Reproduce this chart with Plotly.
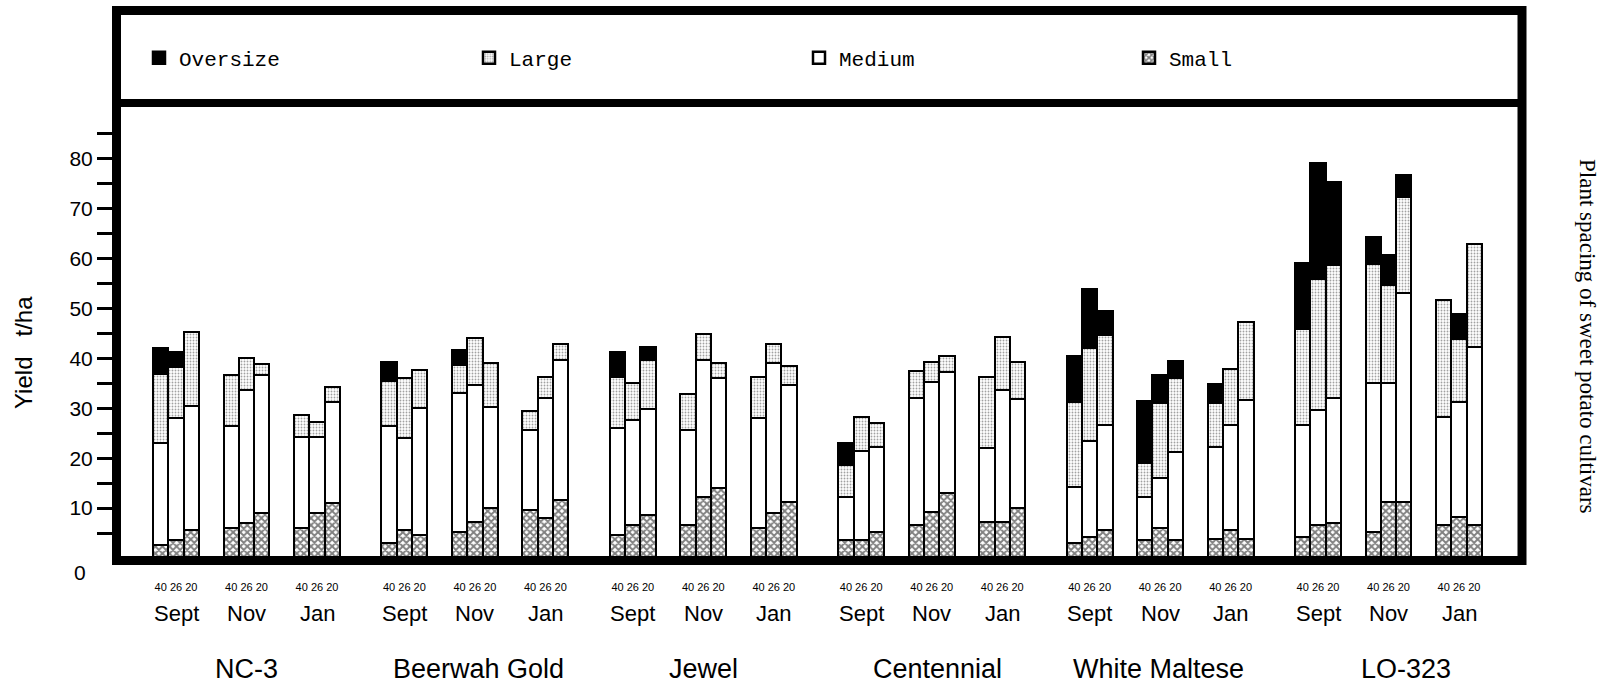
import plotly.graph_objects as go

# ---------------- data ----------------
cultivars = ["NC-3", "Beerwah Gold", "Jewel", "Centennial", "White Maltese", "LO-323"]
months = ["Sept", "Nov", "Jan"]
spacings = ["40", "26", "20"]
sizes = ["Oversize", "Large", "Medium", "Small"]

# yields (t/ha) per bar; order: cultivar -> month -> spacing (40, 26, 20)
small = [
    2.6, 3.6, 5.6,   6.0, 7.1, 9.1,   6.1, 9.0, 11.1,     # NC-3
    3.0, 5.6, 4.6,   5.3, 7.3, 10.0,  9.6, 8.0, 11.6,     # Beerwah Gold
    4.6, 6.6, 8.6,   6.6, 12.3, 14.0, 6.0, 9.0, 11.3,     # Jewel
    3.6, 3.6, 5.3,   6.6, 9.3, 13.0,  7.3, 7.3, 10.0,     # Centennial
    3.0, 4.3, 5.6,   3.6, 6.1, 3.6,   3.9, 5.6, 3.9,      # White Maltese
    4.3, 6.6, 7.0,   5.3, 11.3, 11.3, 6.6, 8.3, 6.6,      # LO-323
]
medium = [
    20.5, 24.4, 24.9,  20.5, 26.6, 27.6,  18.2, 15.3, 20.2,
    23.5, 18.4, 25.4,  27.7, 27.4, 20.3,  16.1, 24.0, 28.1,
    21.4, 21.1, 21.2,  19.1, 27.4, 22.0,  22.0, 30.0, 23.4,
    8.7, 17.9, 17.0,   25.4, 26.0, 24.3,  14.7, 26.4, 21.9,
    11.2, 19.2, 21.1,  8.7, 9.9, 17.6,    18.4, 21.1, 27.8,
    22.4, 23.1, 25.0,  29.8, 23.8, 41.9,  21.7, 23.0, 35.7,
]
large = [
    13.8, 10.3, 14.7,  10.2, 6.3, 2.2,   4.4, 2.9, 3.0,
    9.0, 12.1, 7.7,    5.7, 9.3, 8.7,    3.8, 4.2, 3.2,
    10.3, 7.3, 9.9,    7.2, 5.2, 3.0,    8.2, 3.9, 3.8,
    6.3, 6.8, 4.8,     5.5, 4.0, 3.2,    14.2, 10.5, 7.3,
    17.1, 18.5, 18.0,  6.7, 15.0, 14.8,  8.8, 11.1, 15.5,
    19.1, 26.3, 26.7,  23.9, 19.6, 19.2, 23.4, 12.5, 20.6,
]
oversize = [
    5.2, 2.9, 0.0,     0.0, 0.0, 0.0,    0.0, 0.0, 0.0,
    3.7, 0.0, 0.0,     3.0, 0.0, 0.0,    0.0, 0.0, 0.0,
    5.0, 0.0, 2.6,     0.0, 0.0, 0.0,    0.0, 0.0, 0.0,
    4.4, 0.0, 0.0,     0.0, 0.0, 0.0,    0.0, 0.0, 0.0,
    9.2, 12.0, 4.7,    12.5, 5.7, 3.5,   3.8, 0.0, 0.0,
    13.4, 23.1, 16.7,  5.3, 6.0, 4.4,    0.0, 5.0, 0.0,
]

y_ticks = list(range(5, 90, 5))
y_ticklabels = [str(v) if v % 10 == 0 else "" for v in y_ticks]

# ---------------- layout constants (pixel-like x units) ----------------
X0, GROUP, MONTH, BARW = 176.0, 228.4, 70.5, 15.3
PL, PR, PT, PB = 120, 1517, 108, 558          # plot area in px
YMAX = (PB - PT) / 4.99
label_shift = [0, 4, 0, 6, -2, 17]            # small horizontal nudges of cultivar labels (px)

xs, sp_labels = [], []
for c in range(len(cultivars)):
    for m in range(len(months)):
        for s in range(len(spacings)):
            xs.append(X0 + c * GROUP + m * MONTH + (s - 1) * BARW)
            sp_labels.append(spacings[s])

def px_x(x):
    return (x - PL) / (PR - PL)

def px_y(y):
    return (PB - y) / (PB - PT)

fig = go.Figure()
styles = {
    "Small": dict(color="white", pattern=dict(shape="x", fgcolor="black", bgcolor="white",
                                               size=5, solidity=0.62)),
    "Medium": dict(color="white"),
    "Large": dict(color="white", pattern=dict(shape=".", fgcolor="#444444", bgcolor="white",
                                               size=3, solidity=0.3)),
    "Oversize": dict(color="black"),
}
series = {"Small": small, "Medium": medium, "Large": large, "Oversize": oversize}
rank = {"Oversize": 1, "Large": 2, "Medium": 3, "Small": 4}
for name in ["Small", "Medium", "Large", "Oversize"]:
    st = styles[name]
    mk = dict(color=st["color"], line=dict(color="black", width=2.5))
    if "pattern" in st:
        mk["pattern"] = st["pattern"]
    fig.add_trace(go.Bar(x=xs, y=series[name], name=name, width=BARW, marker=mk,
                         legendrank=rank[name]))

def ann(x, y, text, size, xref="paper", family="Liberation Sans", angle=0):
    return dict(x=x, y=y, xref=xref, yref="paper", text=text, showarrow=False,
                xanchor="center", yanchor="middle", textangle=angle,
                font=dict(family=family, size=size, color="black"))

annotations = []
for c, cname in enumerate(cultivars):
    for m, mname in enumerate(months):
        xc = X0 + c * GROUP + m * MONTH
        annotations.append(ann(xc, px_y(613), mname, 22, xref="x"))
    annotations.append(ann(X0 + c * GROUP + MONTH + label_shift[c], px_y(669), cname, 27, xref="x"))
annotations.append(ann(px_x(80), px_y(572), "0", 21))
annotations.append(ann(px_x(23), px_y(353), "Yield   t/ha", 24, angle=-90))
annotations.append(ann(px_x(1588), px_y(336), "Plant spacing of sweet potato cultivars", 23,
                       family="Liberation Serif", angle=90))

shapes = [
    dict(type="rect", xref="paper", yref="paper", x0=px_x(116.5), x1=px_x(1522), y0=px_y(560.5), y1=px_y(10.5),
         line=dict(color="black", width=9), layer="above"),
    dict(type="line", xref="paper", yref="paper", x0=px_x(116.5), x1=px_x(1522), y0=px_y(103), y1=px_y(103),
         line=dict(color="black", width=8), layer="above"),
]

fig.update_layout(
    width=1608, height=689,
    margin=dict(l=PL, r=1608 - PR, t=PT, b=689 - PB, pad=0),
    paper_bgcolor="white", plot_bgcolor="white",
    barmode="stack", bargap=0,
    showlegend=True,
    legend=dict(orientation="h", x=px_x(139), y=px_y(58), xanchor="left", yanchor="middle",
                traceorder="normal", entrywidth=285, entrywidthmode="pixels",
                font=dict(family="Liberation Mono", size=21, color="black"),
                bgcolor="rgba(0,0,0,0)"),
    xaxis=dict(range=[PL, PR], showgrid=False, zeroline=False, showline=False,
               tickmode="array", tickvals=xs, ticktext=sp_labels, ticks="",
               tickangle=0, ticklabelstandoff=21,
               tickfont=dict(family="Liberation Sans", size=11, color="black")),
    yaxis=dict(range=[0, YMAX], showgrid=False, zeroline=False, showline=False,
               tickmode="array", tickvals=y_ticks, ticktext=y_ticklabels,
               ticks="outside", ticklen=22, tickwidth=3, tickcolor="black",
               tickfont=dict(family="Liberation Sans", size=21, color="black")),
    annotations=annotations,
    shapes=shapes,
)

fig.write_html("out.html", config={"displayModeBar": False},
               post_script="document.body.style.margin='0';")
